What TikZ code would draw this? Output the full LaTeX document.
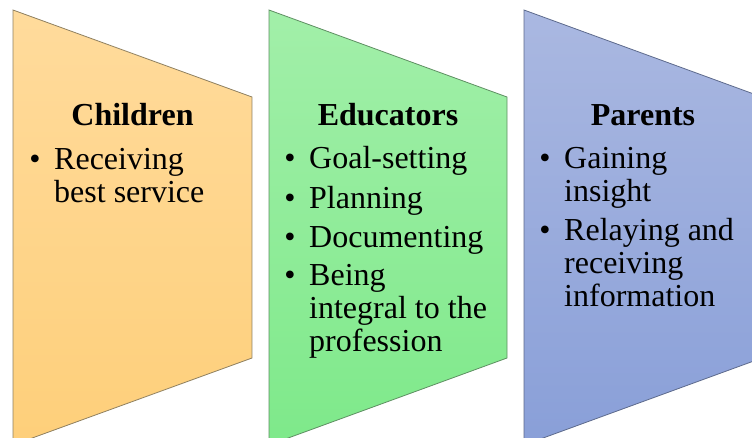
\documentclass[tikz,border=0pt]{standalone}
\usepackage{fontspec}
\setmainfont{Liberation Serif}
\usepackage{tikz}
\definecolor{kidtop}{HTML}{FFDB9C}
\definecolor{kidbot}{HTML}{FECF7A}
\definecolor{kidline}{HTML}{8F8060}
\definecolor{edutop}{HTML}{A2EFA9}
\definecolor{edubot}{HTML}{7EE98A}
\definecolor{eduline}{HTML}{5E8F62}
\definecolor{partop}{HTML}{AAB8E1}
\definecolor{parbot}{HTML}{899FD8}
\definecolor{parline}{HTML}{5D6A8C}
\tikzstyle{panel} = [line width=0.8pt, line join=miter]
\tikzstyle{head} = [anchor=base, inner sep=0pt, font={\fontsize{32}{33}\selectfont\bfseries}]
\tikzstyle{dot} = [anchor=base, inner sep=0pt, font={\fontsize{32}{33}\selectfont}]
\tikzstyle{item} = [anchor=base west, inner sep=0pt, align=left, font={\fontsize{32}{33}\selectfont}]

\begin{document}
\begin{tikzpicture}[x=1pt,y=-1pt]
        \useasboundingbox (0,0) rectangle (752,437);
        \clip (0,0) rectangle (752,437);
        % panels
        \draw[panel,draw=kidline,top color=kidtop,bottom color=kidbot]
          (13,10)--(252,97)--(252,358)--(13,445)--cycle;
        \draw[panel,draw=eduline,top color=edutop,bottom color=edubot]
          (269,10)--(507,97)--(507,358)--(269,445)--cycle;
        \draw[panel,draw=parline,top color=partop,bottom color=parbot]
          (524,10)--(762,97)--(762,358)--(524,445)--cycle;
        % children (multi-line items sit on their last line)
        \node[head](kid) at (132.5,125){Children};
        \node[dot](kid1b) at (35,169){•};
        \node[item](kid1) at (54,202){Receiving\\best service};
        % educators
        \node[head](edu) at (388,125){Educators};
        \node[dot](edu1b) at (290,168){•};
        \node[item](edu1) at (309,168){Goal-setting};
        \node[dot](edu2b) at (290,208){•};
        \node[item](edu2) at (309,208){Planning};
        \node[dot](edu3b) at (290,247){•};
        \node[item](edu3) at (309,247){Documenting};
        \node[dot](edu4b) at (290,285){•};
        \node[item](edu4) at (309,351){Being\\integral to the\\profession};
        % parents
        \node[head](par) at (643,125){Parents};
        \node[dot](par1b) at (545,168){•};
        \node[item](par1) at (564,201){Gaining\\insight};
        \node[dot](par2b) at (545,240){•};
        \node[item](par2) at (564,306){Relaying and\\receiving\\information};
      \end{tikzpicture}
\end{document}
